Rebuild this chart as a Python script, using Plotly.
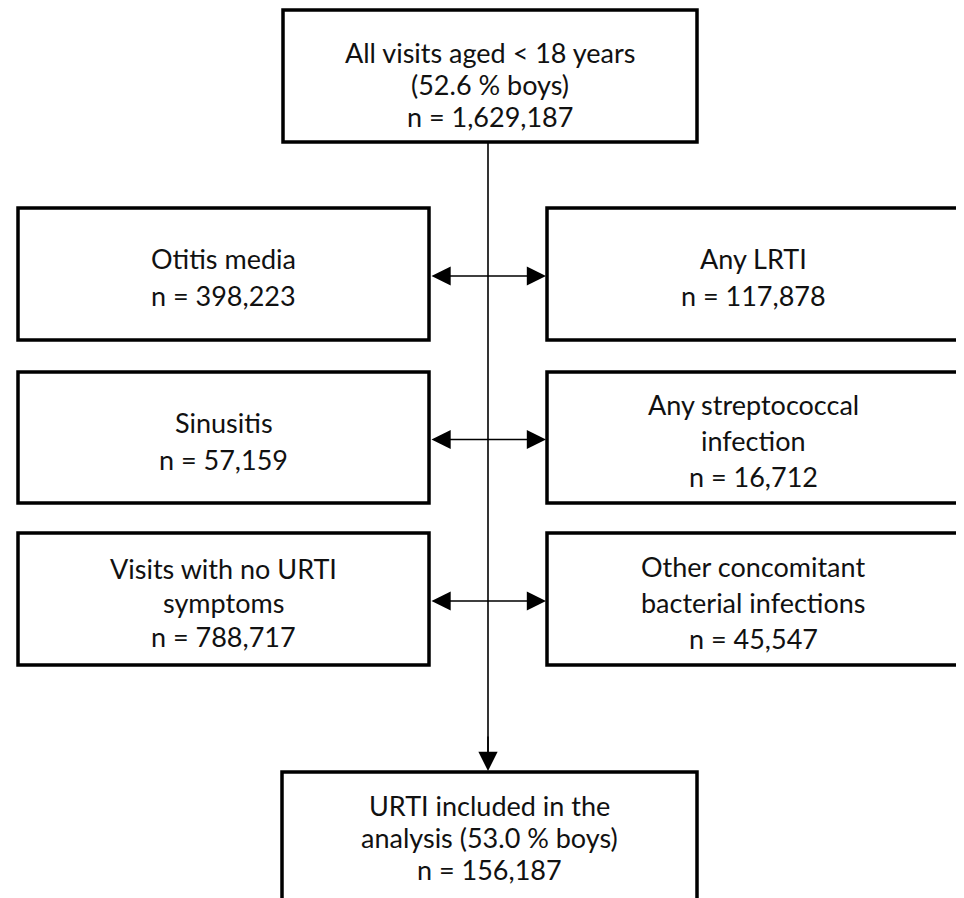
import plotly.graph_objects as go

W, H = 964, 898
PAGE_MARGIN = 8  # default HTML body margin; compensate so pixels land where intended

# Box texts (lines)
top_lines = ["All visits aged < 18 years", "(52.6 % boys)", "n = 1,629,187"]
left_lines = [
    ["Otitis media", "n = 398,223"],
    ["Sinusitis", "n = 57,159"],
    ["Visits with no URTI", "symptoms", "n = 788,717"],
]
right_lines = [
    ["Any LRTI", "n = 117,878"],
    ["Any streptococcal", "infection", "n = 16,712"],
    ["Other concomitant", "bacterial infections", "n = 45,547"],
]
bottom_lines = ["URTI included in the", "analysis (53.0 % boys)", "n = 156,187"]

# Layout geometry (pixels)
top_box = (283, 10, 697, 142)
bottom_box = (282, 772, 697, 930)
left_x = (18, 429)
right_x = (547, 959)
row_y = [(208, 340), (372, 503), (533, 665)]
spine_x = 488

FONT = "Lato"
FS = 27

fig = go.Figure()
shapes = []
annotations = []


def add_box(x0, y0, x1, y1, lines, spacing=34, offset=3, text_cy=None):
    shapes.append(dict(type="rect", xref="x", yref="y", x0=x0, y0=y0, x1=x1, y1=y1,
                       line=dict(color="black", width=3.5), fillcolor="white", layer="above"))
    cx = (x0 + x1) / 2
    cy = (y0 + y1) / 2 + offset if text_cy is None else text_cy
    n = len(lines)
    for i, t in enumerate(lines):
        y = cy + (i - (n - 1) / 2) * spacing
        annotations.append(dict(x=cx, y=y, xref="x", yref="y", text=t, showarrow=False,
                                font=dict(family=FONT, size=FS, color="#111111"),
                                xanchor="center", yanchor="middle"))


# vertical spine line
shapes.append(dict(type="line", xref="x", yref="y", x0=spine_x, y0=142, x1=spine_x, y1=760,
                   line=dict(color="black", width=1.6), layer="below"))
annotations.append(dict(x=spine_x, y=771, ax=spine_x, ay=735, xref="x", yref="y",
                        axref="x", ayref="y", text="", showarrow=True, arrowhead=2,
                        arrowsize=2.4, arrowwidth=1.6, arrowcolor="black"))

add_box(*top_box, top_lines, spacing=32, offset=8)
add_box(*bottom_box, bottom_lines, spacing=32, text_cy=837)

for (y0, y1), ll, rl in zip(row_y, left_lines, right_lines):
    sp = 37 if len(ll) == 2 else 34
    add_box(left_x[0], y0, left_x[1], y1, ll, spacing=sp)
    sp = 37 if len(rl) == 2 else 36
    add_box(right_x[0], y0, right_x[1], y1, rl, spacing=sp)
    ym = (y0 + y1) / 2 + 2
    annotations.append(dict(x=right_x[0] - 1, y=ym, ax=left_x[1] + 1, ay=ym,
                            xref="x", yref="y", axref="x", ayref="y", text="",
                            showarrow=True, arrowhead=2, startarrowhead=2,
                            arrowside="end+start", arrowsize=2.4, startarrowsize=2.4,
                            arrowwidth=1.6, arrowcolor="black"))

fig.update_layout(
    width=W - PAGE_MARGIN, height=H - PAGE_MARGIN,
    margin=dict(l=0, r=0, t=0, b=0),
    paper_bgcolor="white", plot_bgcolor="white",
    xaxis=dict(range=[PAGE_MARGIN, W], visible=False, fixedrange=True),
    yaxis=dict(range=[H, PAGE_MARGIN], visible=False, fixedrange=True),
    shapes=shapes, annotations=annotations, showlegend=False,
)

fig.write_html("out.html")
